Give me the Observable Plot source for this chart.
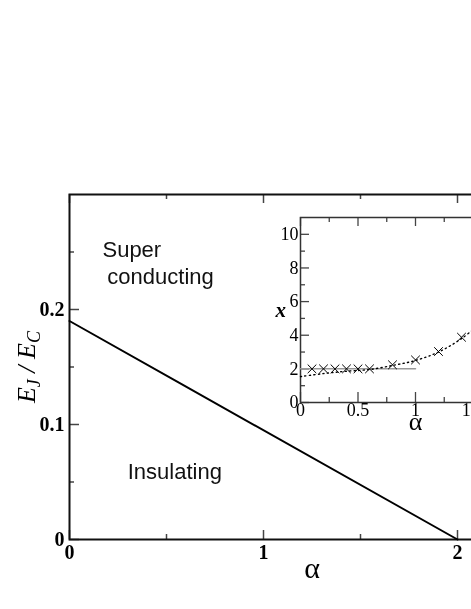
<!DOCTYPE html>
<html><head><meta charset="utf-8">
<script src="https://cdn.jsdelivr.net/npm/d3@7"></script>
<script src="https://cdn.jsdelivr.net/npm/@observablehq/plot@0.6"></script>
<style>
html,body{margin:0;padding:0;overflow:hidden;background:#fff;}
#wrap{position:relative;width:471px;height:609px;overflow:hidden;background:#fff;}
#wrap svg{position:absolute;will-change:transform;}
</style></head><body><div id="wrap"></div>
<script>
// ---- main chart data ----
const mainXTicks = [0, 1, 2];
const mainXTickLabels = ["0", "1", "2"];
const mainXMinor = [0.5, 1.5];
const mainYTicks = [0, 0.1, 0.2];
const mainYTickLabels = ["0", "0.1", "0.2"];
const mainYMinor = [0.05, 0.15, 0.25];
const boundaryAlpha = [0, 2];
const boundaryEJ = [0.19, 0];
const regionText = ["Super", "conducting", "Insulating"];
const regionAlpha = [0.17, 0.195, 0.30];
const regionEJ = [0.252, 0.228, 0.059];
const mainXLabel = "α";
const mainYLabel = "E_J/E_C";

// ---- inset data ----
const insetXTicks = [0, 0.5, 1, 1.5, 2];
const insetXTickLabels = ["0", "0.5", "1", "1.5", "2"];
const insetXMinor = [0.25, 0.75, 1.25, 1.75];
const insetYTicks = [0, 2, 4, 6, 8, 10];
const insetYTickLabels = ["0", "2", "4", "6", "8", "10"];
const insetYMinor = [1, 3, 5, 7, 9];
const crossAlpha = [0.1, 0.2, 0.3, 0.4, 0.5, 0.6, 0.8, 1.0, 1.2, 1.4];
const crossX = [2, 2, 2, 2, 2, 2, 2.24, 2.53, 3.03, 3.88];
const fitAlpha = [0, 0.2, 0.4, 0.6, 0.8, 1.0, 1.2, 1.4, 1.6];
const fitX = [1.54, 1.72, 1.86, 1.96, 2.2, 2.5, 3.0, 3.8, 4.9];
const plateauAlpha = [0, 1];
const plateauX = [2, 2];
const insetXLabel = "α";
const insetYLabel = "x";

const serif = "'Liberation Serif', 'Times New Roman', serif";
const sans = "'Liberation Sans', Arial, sans-serif";
const lab = (ticks, labels) => { const m = new Map(ticks.map((t, i) => [t, labels[i]])); return d => m.get(d); };

// ---- main plot ----
const W = 600, H = 609, mL = 69, mT = 194, mR = 46, mB = 70;
const fw = W - mL - mR, fh = H - mT - mB;
const boundary = boundaryAlpha.map((a, i) => ({a, e: boundaryEJ[i]}));
const regions = regionText.map((t, i) => ({t, a: regionAlpha[i], e: regionEJ[i]}));

const main = Plot.plot({
  width: W, height: H, marginLeft: mL, marginTop: mT, marginRight: mR, marginBottom: mB,
  x: {domain: [0, 2.5]},
  y: {domain: [0, 0.3]},
  style: {background: "transparent", maxWidth: "none", fontFamily: serif},
  marks: [
    Plot.tickY(mainYTicks, {y: d => d, insetRight: fw - 10, stroke: "#444", strokeWidth: 1.5}),
    Plot.tickY(mainYMinor, {y: d => d, insetRight: fw - 5, stroke: "#444", strokeWidth: 1.5}),
    Plot.tickX(mainXTicks, {x: d => d, insetTop: fh - 9, stroke: "#444", strokeWidth: 1.5}),
    Plot.tickX(mainXMinor, {x: d => d, insetTop: fh - 5, stroke: "#444", strokeWidth: 1.5}),
    Plot.tickX(mainXTicks, {x: d => d, insetBottom: fh - 9, stroke: "#444", strokeWidth: 1.5}),
    Plot.tickX(mainXMinor, {x: d => d, insetBottom: fh - 5, stroke: "#444", strokeWidth: 1.5}),
    Plot.frame({stroke: "#111", strokeWidth: 2}),
    Plot.line(boundary, {x: "a", y: "e", stroke: "#000", strokeWidth: 2}),
    Plot.text(regions, {x: "a", y: "e", text: "t", textAnchor: "start", fontFamily: sans, fontSize: 22, fill: "#111"}),
    Plot.axisX({ticks: mainXTicks, tickSize: 0, tickPadding: 5, tickFormat: lab(mainXTicks, mainXTickLabels), fontSize: 20, fontWeight: "bold", label: null}),
    Plot.axisY({ticks: mainYTicks, tickSize: 0, tickPadding: 5, tickFormat: lab(mainYTicks, mainYTickLabels), fontSize: 20, fontWeight: "bold", label: null}),
    Plot.text([mainXLabel], {frameAnchor: "bottom", dy: 38, text: d => d, fontSize: 30, fill: "#000"}),
    Plot.text([mainYLabel], {frameAnchor: "left", dx: -43, rotate: -90, text: d => d, fontSize: 26, fontStyle: "italic", fill: "#000"})
  ]
});
main.style.left = "0px";
main.style.top = "0px";
document.getElementById("wrap").appendChild(main);
// subscripts for the y label, then re-centre the label along its own axis
d3.select(main).selectAll("text").filter(function() { return this.textContent === mainYLabel; }).each(function() {
  const t = d3.select(this);
  t.text(null);
  t.append("tspan").text("E");
  t.append("tspan").attr("font-size", 18).style("baseline-shift", "-5px").text("J");
  t.append("tspan").text(" / ");
  t.append("tspan").text("E");
  t.append("tspan").attr("font-size", 18).style("baseline-shift", "-5px").text("C");
  const len = this.getComputedTextLength();
  t.attr("text-anchor", "start").attr("x", -len / 2);
});

// ---- inset plot ----
const iW = 310, iH = 252, iL = 60, iT = 27, iR = 20, iB = 40;
const ifw = iW - iL - iR, ifh = iH - iT - iB;
const crosses = crossAlpha.map((a, i) => ({a, v: crossX[i]}));
const fit = fitAlpha.map((a, i) => ({a, v: fitX[i]}));
const plateau = plateauAlpha.map((a, i) => ({a, v: plateauX[i]}));

const inset = Plot.plot({
  width: iW, height: iH, marginLeft: iL, marginTop: iT, marginRight: iR, marginBottom: iB,
  x: {domain: [0, 2]},
  y: {domain: [0, 11]},
  style: {background: "transparent", maxWidth: "none", fontFamily: serif},
  marks: [
    Plot.tickY(insetYTicks, {y: d => d, insetRight: ifw - 9, stroke: "#444", strokeWidth: 1.3}),
    Plot.tickY(insetYMinor, {y: d => d, insetRight: ifw - 5, stroke: "#444", strokeWidth: 1.3}),
    Plot.tickX(insetXTicks, {x: d => d, insetTop: ifh - 10, stroke: "#444", strokeWidth: 1.3}),
    Plot.tickX(insetXMinor, {x: d => d, insetTop: ifh - 5, stroke: "#444", strokeWidth: 1.3}),
    Plot.tickX(insetXTicks, {x: d => d, insetBottom: ifh - 9, stroke: "#444", strokeWidth: 1.3}),
    Plot.tickX(insetXMinor, {x: d => d, insetBottom: ifh - 5, stroke: "#444", strokeWidth: 1.3}),
    Plot.frame({stroke: "#333", strokeWidth: 1.5}),
    Plot.line(plateau, {x: "a", y: "v", stroke: "#999", strokeWidth: 1.5}),
    Plot.line(fit, {x: "a", y: "v", stroke: "#000", strokeWidth: 1.4, strokeDasharray: "1.2,3.3", curve: "catmull-rom"}),
    Plot.dot(crosses, {x: "a", y: "v", symbol: "times", r: 4, stroke: "#000", strokeWidth: 1}),
    Plot.axisX({ticks: insetXTicks, tickSize: 0, tickPadding: 1, tickFormat: lab(insetXTicks, insetXTickLabels), fontSize: 18, label: null}),
    Plot.axisY({ticks: insetYTicks, tickSize: 0, tickPadding: 2, tickFormat: lab(insetYTicks, insetYTickLabels), fontSize: 18, label: null}),
    Plot.text([insetXLabel], {frameAnchor: "bottom", dy: 27, text: d => d, fontSize: 26, fill: "#000"}),
    Plot.text([insetYLabel], {frameAnchor: "left", dx: -25, text: d => d, fontSize: 21, fontStyle: "italic", fontWeight: "bold", fill: "#000"})
  ]
});
inset.style.left = "240px";
inset.style.top = "190px";
document.getElementById("wrap").appendChild(inset);
</script>
</body></html>
